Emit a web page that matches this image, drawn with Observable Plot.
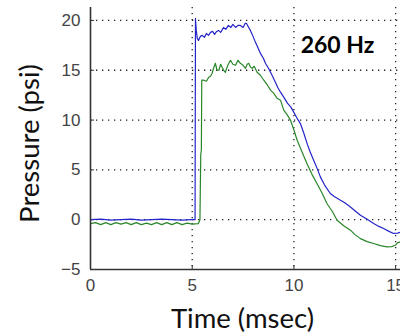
<!DOCTYPE html>
<html>
<head>
<meta charset="utf-8">
<script src="https://cdn.jsdelivr.net/npm/d3@7"></script>
<script src="https://cdn.jsdelivr.net/npm/@observablehq/plot@0.6"></script>
<style>
  html, body { margin: 0; padding: 0; background: #fff; }
  #chart { width: 400px; height: 336px; overflow: hidden; }
</style>
</head>
<body>
<div id="chart"></div>
<script>
// ---- data ----
const xTicks = [0, 5, 10, 15];
const yTicks = [-5, 0, 5, 10, 15, 20];
const xLabel = "Time (msec)";
const yLabel = "Pressure (psi)";
const annotation = "260 Hz";

const blueTime = [0, 0.5, 1, 1.5, 2, 2.5, 3, 3.5, 4, 4.5, 5, 5.14, 5.15, 5.16, 5.2, 5.25, 5.31, 5.4, 5.5, 5.6, 5.7, 5.8, 5.9, 6.0, 6.1, 6.2, 6.29, 6.4, 6.54, 6.65, 6.78, 6.9, 7.0, 7.13, 7.25, 7.37, 7.5, 7.6, 7.67, 7.75, 7.86, 7.95, 8.11, 8.2, 8.35, 8.5, 8.6, 8.75, 8.9, 9.09, 9.2, 9.34, 9.5, 9.68, 9.85, 9.99, 10.15, 10.32, 10.5, 10.65, 10.8, 10.97, 11.15, 11.3, 11.5, 11.79, 12.0, 12.29, 12.5, 12.78, 13.0, 13.27, 13.6, 13.92, 14.2, 14.41, 14.7, 14.9, 15.1, 15.3];
const bluePressure = [0.0, 0.05, -0.05, 0.0, 0.05, -0.05, 0.0, 0.05, 0.0, -0.05, 0.0, 0.0, 10.0, 20.2, 19.0, 18.2, 18.0, 18.4, 18.5, 18.3, 18.7, 18.5, 18.8, 18.9, 18.6, 18.9, 19.0, 18.8, 19.3, 19.1, 19.5, 19.3, 19.6, 19.3, 19.5, 19.5, 19.3, 19.7, 19.7, 19.4, 19.0, 18.6, 17.8, 17.4, 16.7, 16.2, 15.7, 15.2, 14.6, 13.8, 13.3, 12.8, 12.3, 11.7, 11.3, 10.8, 10.2, 9.65, 8.6, 7.64, 6.8, 5.97, 5.1, 4.3, 3.5, 2.63, 2.3, 1.96, 1.7, 1.28, 0.9, 0.45, 0.05, -0.38, -0.7, -0.88, -1.2, -1.38, -1.35, -1.2];

const greenTime = [0, 0.25, 0.5, 0.75, 1, 1.25, 1.5, 1.75, 2, 2.25, 2.5, 2.75, 3, 3.25, 3.5, 3.75, 4, 4.25, 4.5, 4.75, 5, 5.3, 5.38, 5.42, 5.45, 5.47, 5.57, 5.7, 5.81, 5.9, 5.98, 6.05, 6.14, 6.22, 6.31, 6.4, 6.47, 6.55, 6.63, 6.75, 6.88, 7.0, 7.13, 7.25, 7.37, 7.5, 7.62, 7.7, 7.78, 7.87, 7.95, 8.05, 8.19, 8.35, 8.52, 8.7, 8.85, 9.0, 9.17, 9.34, 9.5, 9.65, 9.83, 10.0, 10.16, 10.4, 10.65, 10.9, 11.14, 11.4, 11.63, 11.9, 12.12, 12.45, 12.78, 13.0, 13.27, 13.6, 13.92, 14.25, 14.58, 14.8, 14.99, 15.1, 15.3];
const greenPressure = [-0.4, -0.3, -0.5, -0.3, -0.5, -0.3, -0.45, -0.3, -0.5, -0.3, -0.5, -0.35, -0.5, -0.3, -0.5, -0.3, -0.5, -0.3, -0.5, -0.35, -0.45, -0.4, 0.0, 6.5, 7.0, 14.0, 14.0, 13.9, 14.3, 14.4, 14.7, 15.2, 15.7, 15.0, 15.0, 15.6, 15.3, 15.0, 14.8, 15.5, 16.0, 15.6, 15.5, 16.0, 15.7, 15.5, 15.2, 15.6, 15.7, 15.3, 15.2, 15.4, 14.8, 14.5, 14.0, 13.5, 13.0, 12.7, 12.2, 12.0, 11.0, 10.6, 10.0, 9.0, 7.97, 6.8, 5.6, 4.5, 3.6, 2.6, 1.6, 0.8, -0.05, -0.6, -1.05, -1.5, -1.9, -2.2, -2.39, -2.6, -2.73, -2.7, -2.56, -2.3, -2.2];

const blue = blueTime.map((t, i) => ({t, p: bluePressure[i]}));
const green = greenTime.map((t, i) => ({t, p: greenPressure[i]}));

const tickFont = "'Liberation Sans', Arial, sans-serif";
const labelFont = "Lato, 'Open Sans', sans-serif";

const chart = Plot.plot({
  width: 400,
  height: 336,
  marginLeft: 90,
  marginRight: 0,
  marginTop: 7,
  marginBottom: 67,
  style: {background: "#fff", overflow: "visible"},
  x: {domain: [0, 15.24], ticks: xTicks},
  y: {domain: [-5, 21.3], ticks: yTicks},
  marks: [
    Plot.ruleX(xTicks.filter(d => d > 0), {stroke: "#222", strokeWidth: 1.3, strokeDasharray: "1.3,4.7"}),
    Plot.ruleY(yTicks.filter(d => d > -5), {stroke: "#222", strokeWidth: 1.3, strokeDasharray: "1.3,4.7"}),
    Plot.axisX({ticks: xTicks, tickSize: -4, tickPadding: 13, label: null, fontSize: 17, fontFamily: tickFont, fill: "#444", stroke: "#333"}),
    Plot.axisY({ticks: yTicks, tickSize: -4, tickPadding: 14, label: null, fontSize: 17, fontFamily: tickFont, fill: "#444", stroke: "#333"}),
    Plot.line(blue, {x: "t", y: "p", stroke: "#2424c8", strokeWidth: 1.2}),
    Plot.line(green, {x: "t", y: "p", stroke: "#2a862a", strokeWidth: 1.2}),
    Plot.ruleX([0], {stroke: "#333", strokeWidth: 1.6}),
    Plot.ruleY([-5], {stroke: "#333", strokeWidth: 1.6}),
    Plot.text([yLabel], {frameAnchor: "left", text: d => d, textAnchor: "middle", lineAnchor: "middle", rotate: -90, dx: -60, dy: 5, fontSize: 27.5, fontFamily: labelFont, fill: "#111"}),
    Plot.text([xLabel], {frameAnchor: "bottom", text: d => d, textAnchor: "middle", lineAnchor: "middle", dx: -3, dy: 50, fontSize: 27.5, fontFamily: labelFont, fill: "#111"}),
    Plot.text([annotation], {frameAnchor: "top-left", text: d => d, textAnchor: "middle", lineAnchor: "middle", dx: 247, dy: 38, fontSize: 23, fontWeight: "bold", fontFamily: labelFont, fill: "#000"})
  ]
});
document.getElementById("chart").appendChild(chart);
</script>
</body>
</html>
